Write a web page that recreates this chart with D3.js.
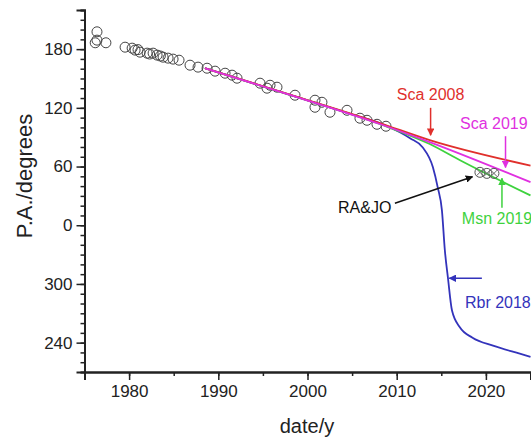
<!DOCTYPE html>
<html>
<head>
<meta charset="utf-8">
<script src="https://cdn.jsdelivr.net/npm/d3@7"></script>
<style>
  body { margin: 0; background: #fff; }
  text { font-family: Arial, "Liberation Sans", sans-serif; }
</style>
</head>
<body>
<div id="canvas"></div>
<script>
"use strict"

// observed position angles (unwrapped, degrees)
let obsYear = [1976.4, 1976.4, 1977.4, 1976.2, 1979.55, 1980.34, 1980.67, 1981.0, 1981.23, 1982.02, 1982.3,
    1982.69, 1983.14, 1983.5, 1983.81, 1984.37, 1984.93, 1985.6, 1986.83, 1987.73, 1988.74, 1989.64,
    1990.76, 1991.54, 1992.1, 1994.68, 1995.46, 1995.8, 1996.58, 1998.6, 2000.84, 2000.84, 2001.62,
    2002.52, 2004.43, 2005.88, 2006.67, 2007.79, 2008.8]
let obsPA = [197.7, 189.2, 186.5, 186.5, 182.0, 181.0, 179.0, 179.5, 176.9, 175.9, 175.0,
    175.9, 173.9, 173.0, 171.8, 170.8, 169.8, 168.7, 163.6, 161.6, 160.5, 157.5,
    155.4, 153.4, 150.3, 145.2, 140.1, 143.1, 141.1, 132.9, 127.8, 120.6, 125.7,
    115.5, 117.5, 109.4, 107.3, 103.2, 101.2]

// RA&JO measurements
let rajoYear = [2019.33, 2020.11, 2020.9]
let rajoPA = [54.1, 53.0, 53.0]

// orbit predictions
let sca2008Year = [1988.5, 1998.3, 2008.1, 2013.7, 2025]
let sca2008PA = [160.5, 132.8, 104.5, 87, 61]
let sca2019Year = [1988.5, 1998.3, 2008.1, 2013.7, 2025]
let sca2019PA = [160.5, 132.5, 103.5, 85, 44]
let msn2019Year = [1988.5, 1998.3, 2008.1, 2013.7, 2017.1, 2025]
let msn2019PA = [160.5, 132.5, 103.5, 83, 66.4, 30.5]
let rbr2018Year = [1988.5, 1998.3, 2005, 2008.7, 2011.5, 2012.9, 2014.06, 2014.6, 2015.07, 2015.4, 2015.74,
    2016.2, 2017.1, 2018.5, 2020.8, 2023.8, 2025]
let rbr2018PA = [160.5, 132.5, 113.2, 102.2, 88.9, 79.7, 59.2, 38.7, 15.2, -25.8, -53.4,
    -87.2, -104.6, -114.9, -123.1, -131.3, -134.5]

let xMajor = [1980, 1990, 2000, 2010, 2020]
let yMajor = [180, 120, 60, 0, -60, -120]

let svgWidth = 531
let svgHeight = 440

let drawing = d3.select("#canvas")
    .append("svg")
    .attr("width", svgWidth)
    .attr("height", svgHeight)

let x = d3.scaleLinear().domain([1975, 2025]).range([84.5, 530.5])
let y = d3.scaleLinear().domain([-150, 220]).range([372, 10])

let defs = drawing.append("defs")
function marker(id, color) {
    defs.append("marker")
        .attr("id", id)
        .attr("viewBox", "0 0 10 10")
        .attr("refX", 9).attr("refY", 5)
        .attr("markerWidth", 5).attr("markerHeight", 5)
        .attr("orient", "auto")
        .append("path")
        .attr("d", "M0,0 L10,5 L0,10 z")
        .attr("fill", color)
}
marker("arRed", "#e0302c")
marker("arMag", "#e030e0")
marker("arGrn", "#3ed23e")
marker("arBlu", "#3333bb")
marker("arBlk", "#111")

// axes
let wrap = d => ((d % 360) + 360) % 360

let yMinor = drawing.append("g")
    .attr("transform", "translate(84.5,0)")
    .call(d3.axisLeft(y).tickValues(d3.range(-150, 221, 10)).tickSize(4).tickFormat(""))
let yAxis = drawing.append("g")
    .attr("transform", "translate(84.5,0)")
    .call(d3.axisLeft(y).tickValues(yMajor).tickSize(8).tickPadding(4).tickFormat(wrap))

let xMinor = drawing.append("g")
    .attr("transform", "translate(0,372)")
    .call(d3.axisBottom(x).tickValues(d3.range(1975, 2026, 5)).tickSize(4).tickFormat(""))
let xAxis = drawing.append("g")
    .attr("transform", "translate(0,372)")
    .call(d3.axisBottom(x).tickValues(xMajor).tickSize(8).tickPadding(5).tickFormat(d3.format("d")))

drawing.selectAll(".domain").attr("stroke", "#222").attr("stroke-width", 2)
drawing.selectAll(".tick line").attr("stroke", "#222").attr("stroke-width", 1.5)
drawing.selectAll(".tick text").attr("font-size", 17).attr("fill", "#222")
    .attr("font-family", "Arial, 'Liberation Sans', sans-serif")

drawing.append("text")
    .attr("transform", "translate(32,176) rotate(-90)")
    .attr("text-anchor", "middle")
    .attr("font-size", 22)
    .attr("fill", "#222")
    .text("P.A./degrees")

drawing.append("text")
    .attr("x", 307).attr("y", 433)
    .attr("text-anchor", "middle")
    .attr("font-size", 20)
    .attr("fill", "#222")
    .text("date/y")

// observations
let obs = obsYear.map((d, i) => [d, obsPA[i]])
drawing.append("g").selectAll("circle")
    .data(obs)
    .join("circle")
    .attr("cx", d => x(d[0]))
    .attr("cy", d => y(d[1]))
    .attr("r", 5)
    .attr("fill", "none")
    .attr("stroke", "#444")
    .attr("stroke-width", 1)

// model curves
let line = d3.line().x(d => x(d[0])).y(d => y(d[1])).curve(d3.curveMonotoneX)
function curve(years, pas, color) {
    drawing.append("path")
        .attr("d", line(years.map((d, i) => [d, pas[i]])))
        .attr("fill", "none")
        .attr("stroke", color)
        .attr("stroke-width", 1.8)
}
curve(rbr2018Year, rbr2018PA, "#3333bb")
curve(msn2019Year, msn2019PA, "#3ed23e")
curve(sca2008Year, sca2008PA, "#e0302c")
curve(sca2019Year, sca2019PA, "#e030e0")

// RA&JO points
let rajo = rajoYear.map((d, i) => [d, rajoPA[i]])
let rajoG = drawing.append("g").selectAll("g")
    .data(rajo)
    .join("g")
    .attr("transform", d => `translate(${x(d[0])},${y(d[1])})`)
rajoG.append("circle").attr("r", 5).attr("fill", "none").attr("stroke", "#555").attr("stroke-width", 1)
rajoG.append("path").attr("d", "M-3.5,-3.5L3.5,3.5M-3.5,3.5L3.5,-3.5").attr("stroke", "#666").attr("stroke-width", 1)

// annotations
function arrow(x1, y1, x2, y2, color, id) {
    drawing.append("line")
        .attr("x1", x(x1)).attr("y1", y(y1))
        .attr("x2", x(x2)).attr("y2", y(y2))
        .attr("stroke", color)
        .attr("stroke-width", 1.5)
        .attr("marker-end", `url(#${id})`)
}
function label(xv, yv, txt, color, anchor) {
    drawing.append("text")
        .attr("x", x(xv)).attr("y", y(yv))
        .attr("text-anchor", anchor)
        .attr("font-size", 16)
        .attr("fill", color)
        .text(txt)
}

label(2013.8, 128, "Sca 2008", "#e0302c", "middle")
arrow(2013.8, 120, 2013.8, 92, "#e0302c", "arRed")

label(2017.1, 98, "Sca 2019", "#e030e0", "start")
arrow(2022.2, 91, 2022.2, 59, "#e030e0", "arMag")

label(2017.3, 1, "Msn 2019", "#3ed23e", "start")
arrow(2021.8, 18, 2021.8, 48, "#3ed23e", "arGrn")

label(2017.65, -85, "Rbr 2018", "#3333bb", "start")
arrow(2019.55, -54.2, 2015.9, -54.2, "#3333bb", "arBlu")

label(2009.4, 12.3, "RA&JO", "#111", "end")
arrow(2009.8, 22.5, 2018.5, 49.5, "#111", "arBlk")
</script>
</body>
</html>
